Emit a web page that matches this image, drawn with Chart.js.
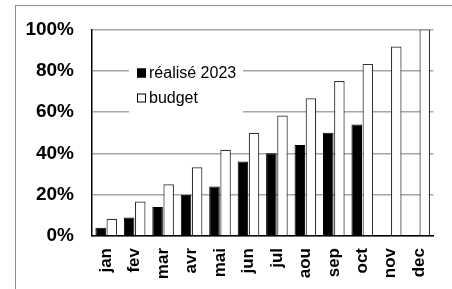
<!DOCTYPE html>
<html lang="fr">
<head>
    <meta charset="UTF-8">
    <title>réalisé 2023 vs budget</title>
    <script src="https://cdn.jsdelivr.net/npm/chart.js"></script>
    <style>
        html, body {
            margin: 0;
            padding: 0;
            background: #fff;
        }
        .wrap {
            width: 452px;
            height: 289px;
            position: relative;
        }
    </style>
</head>
<body>
    <div class="wrap">
        <canvas id="chart" width="452" height="289"></canvas>
    </div>

    <script>
        // données (en %)
        const mois = ['jan', 'fev', 'mar', 'avr', 'mai', 'jun', 'jul', 'aou', 'sep', 'oct', 'nov', 'dec'];
        const realise2023 = [4, 9, 14, 20, 24, 36, 40, 44, 50, 54, null, null];
        const budget = [8.3, 16.7, 25, 33.3, 41.7, 50, 58.3, 66.7, 75, 83.3, 91.7, 100];
        const yTicks = [0, 20, 40, 60, 80, 100];

        const font = 'Liberation Sans, Arial, sans-serif';

        // cadre gris + légende dessinée à la main dans la zone du graphique
        const frameAndLegend = {
            id: 'frameAndLegend',
            beforeDraw(chart) {
                const ctx = chart.ctx;
                ctx.save();
                ctx.strokeStyle = '#8c8c8c';
                ctx.lineWidth = 1;
                ctx.strokeRect(15.5, 5.5, 600, 400);
                ctx.restore();
            },
            afterDatasetsDraw(chart) {
                const ctx = chart.ctx;
                const ds = chart.data.datasets;
                ctx.save();
                ctx.fillStyle = '#fff';
                ctx.fillRect(129, 58, 114, 56);
                ctx.font = '16px ' + font;
                ctx.textBaseline = 'middle';
                ds.forEach((d, i) => {
                    const y = 73 + i * 25;
                    ctx.fillStyle = d.backgroundColor;
                    ctx.fillRect(137, y - 4.5, 9, 9);
                    ctx.strokeStyle = '#000';
                    ctx.lineWidth = 1;
                    ctx.strokeRect(137.5, y - 4, 8, 8);
                    ctx.fillStyle = '#000';
                    ctx.fillText(d.label, 149, y + 1);
                });
                ctx.restore();
            }
        };

        new Chart(document.getElementById('chart'), {
            type: 'bar',
            data: {
                labels: mois,
                datasets: [{
                    label: 'réalisé 2023',
                    data: realise2023,
                    backgroundColor: '#000',
                    borderColor: '#000',
                    borderWidth: 1
                }, {
                    label: 'budget',
                    data: budget,
                    backgroundColor: '#fff',
                    borderColor: '#333',
                    borderWidth: 1.2
                }]
            },
            options: {
                responsive: false,
                animation: false,
                layout: { padding: { top: 24, right: 10, left: 0, bottom: 0 } },
                datasets: {
                    bar: { categoryPercentage: 0.78, barPercentage: 0.95 }
                },
                plugins: {
                    legend: { display: false },
                    tooltip: { enabled: false }
                },
                scales: {
                    x: {
                        grid: { display: false, drawTicks: false },
                        border: { color: '#000', width: 1.5 },
                        ticks: {
                            minRotation: 90,
                            maxRotation: 90,
                            padding: 12,
                            color: '#000',
                            font: { family: font, size: 17, weight: 'bold' }
                        },
                        afterFit(scale) { scale.height = 53; }
                    },
                    y: {
                        min: 0,
                        max: 100,
                        afterBuildTicks(scale) {
                            scale.ticks = yTicks.map(v => ({ value: v }));
                        },
                        grid: { color: '#a6a6a6', lineWidth: 1.5, drawTicks: false },
                        border: { color: '#000', width: 1.5 },
                        ticks: {
                            padding: 18,
                            color: '#000',
                            font: { family: font, size: 19, weight: 'bold' },
                            callback: v => v + '%'
                        },
                        afterFit(scale) { scale.width = 92; }
                    }
                }
            },
            plugins: [frameAndLegend]
        });
    </script>
</body>
</html>
